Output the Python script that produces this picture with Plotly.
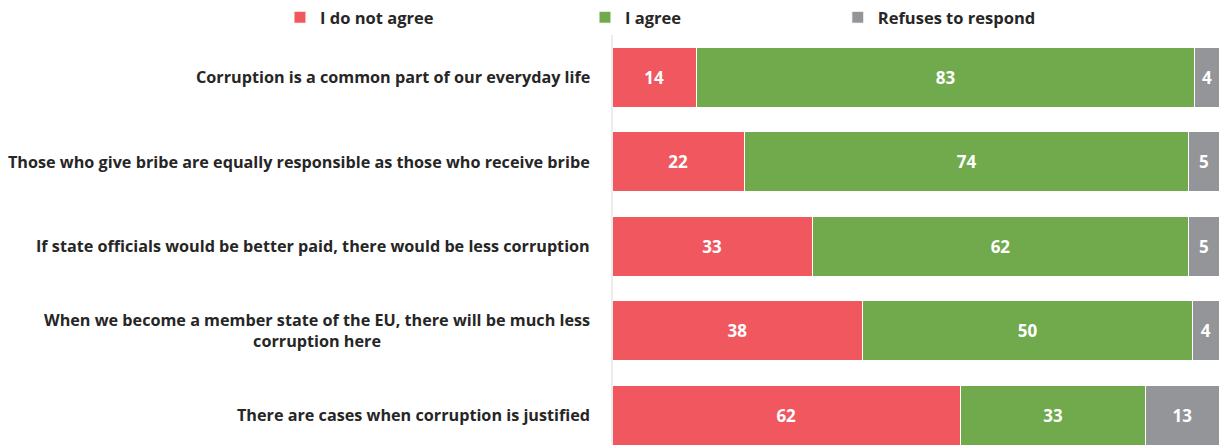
import plotly.graph_objects as go

statements = [
    "Corruption is a common part of our everyday life",
    "Those who give bribe are equally responsible as those who receive bribe",
    "If state officials would be better paid, there would be less corruption",
    "When we become a member state of the EU, there will be much less<br>corruption here",
    "There are cases when corruption is justified",
]
disagree = [14, 22, 33, 38, 62]
agree = [83, 74, 62, 50, 33]
refuses = [4, 5, 5, 4, 13]

series_names = ["I do not agree", "I agree", "Refuses to respond"]
series_colors = ["#F0575F", "#70AA4D", "#939598"]
series_values = [disagree, agree, refuses]
legend_ids = ["legend", "legend2", "legend3"]
legend_x = [-0.547, -0.0445, 0.372]

FONT = "Open Sans"
rows = list(range(len(statements)))

fig = go.Figure()
for name, color, vals, lid in zip(series_names, series_colors, series_values, legend_ids):
    fig.add_trace(go.Bar(
        y=rows,
        x=vals,
        name=name,
        orientation="h",
        marker=dict(color=color, line=dict(color="white", width=1)),
        text=[str(v) for v in vals],
        textposition="inside",
        insidetextanchor="middle",
        textfont=dict(family=FONT, size=17, color="white", weight="bold"),
        hoverinfo="x+name",
        legend=lid,
    ))

# category labels, centred per line and right-aligned to the axis
for i, s in enumerate(statements):
    fig.add_annotation(
        x=0, xref="paper", y=i, yref="y",
        xanchor="right", xshift=-20, align="center",
        text=s, showarrow=False,
        font=dict(family=FONT, size=16.2, color="#262626", weight="bold"),
    )

legend_common = dict(
    orientation="h", y=1.0, yanchor="bottom", xanchor="left",
    font=dict(family=FONT, size=16.5, color="#262626", weight="bold"),
    bgcolor="rgba(0,0,0,0)", itemwidth=30,
)
layout_legends = {}
for lid, lx in zip(legend_ids, legend_x):
    layout_legends[lid] = dict(x=lx, **legend_common)

fig.update_layout(
    width=1219, height=445,
    margin=dict(l=612, r=0, t=35, b=0, autoexpand=False),
    paper_bgcolor="white", plot_bgcolor="white",
    barmode="stack", barnorm="percent", bargap=0.29,
    uniformtext=dict(mode="show", minsize=10),
    showlegend=True,
    xaxis=dict(visible=False, range=[0, 100], fixedrange=True),
    yaxis=dict(range=[4.352, -0.5], showticklabels=False, showgrid=False,
               zeroline=False, showline=False, ticks="", fixedrange=True),
    shapes=[dict(type="line", xref="paper", yref="paper", x0=0, x1=0, y0=0, y1=1,
                 line=dict(color="#D9D9D9", width=1))],
    **layout_legends,
)

fig.write_html("out.html")
